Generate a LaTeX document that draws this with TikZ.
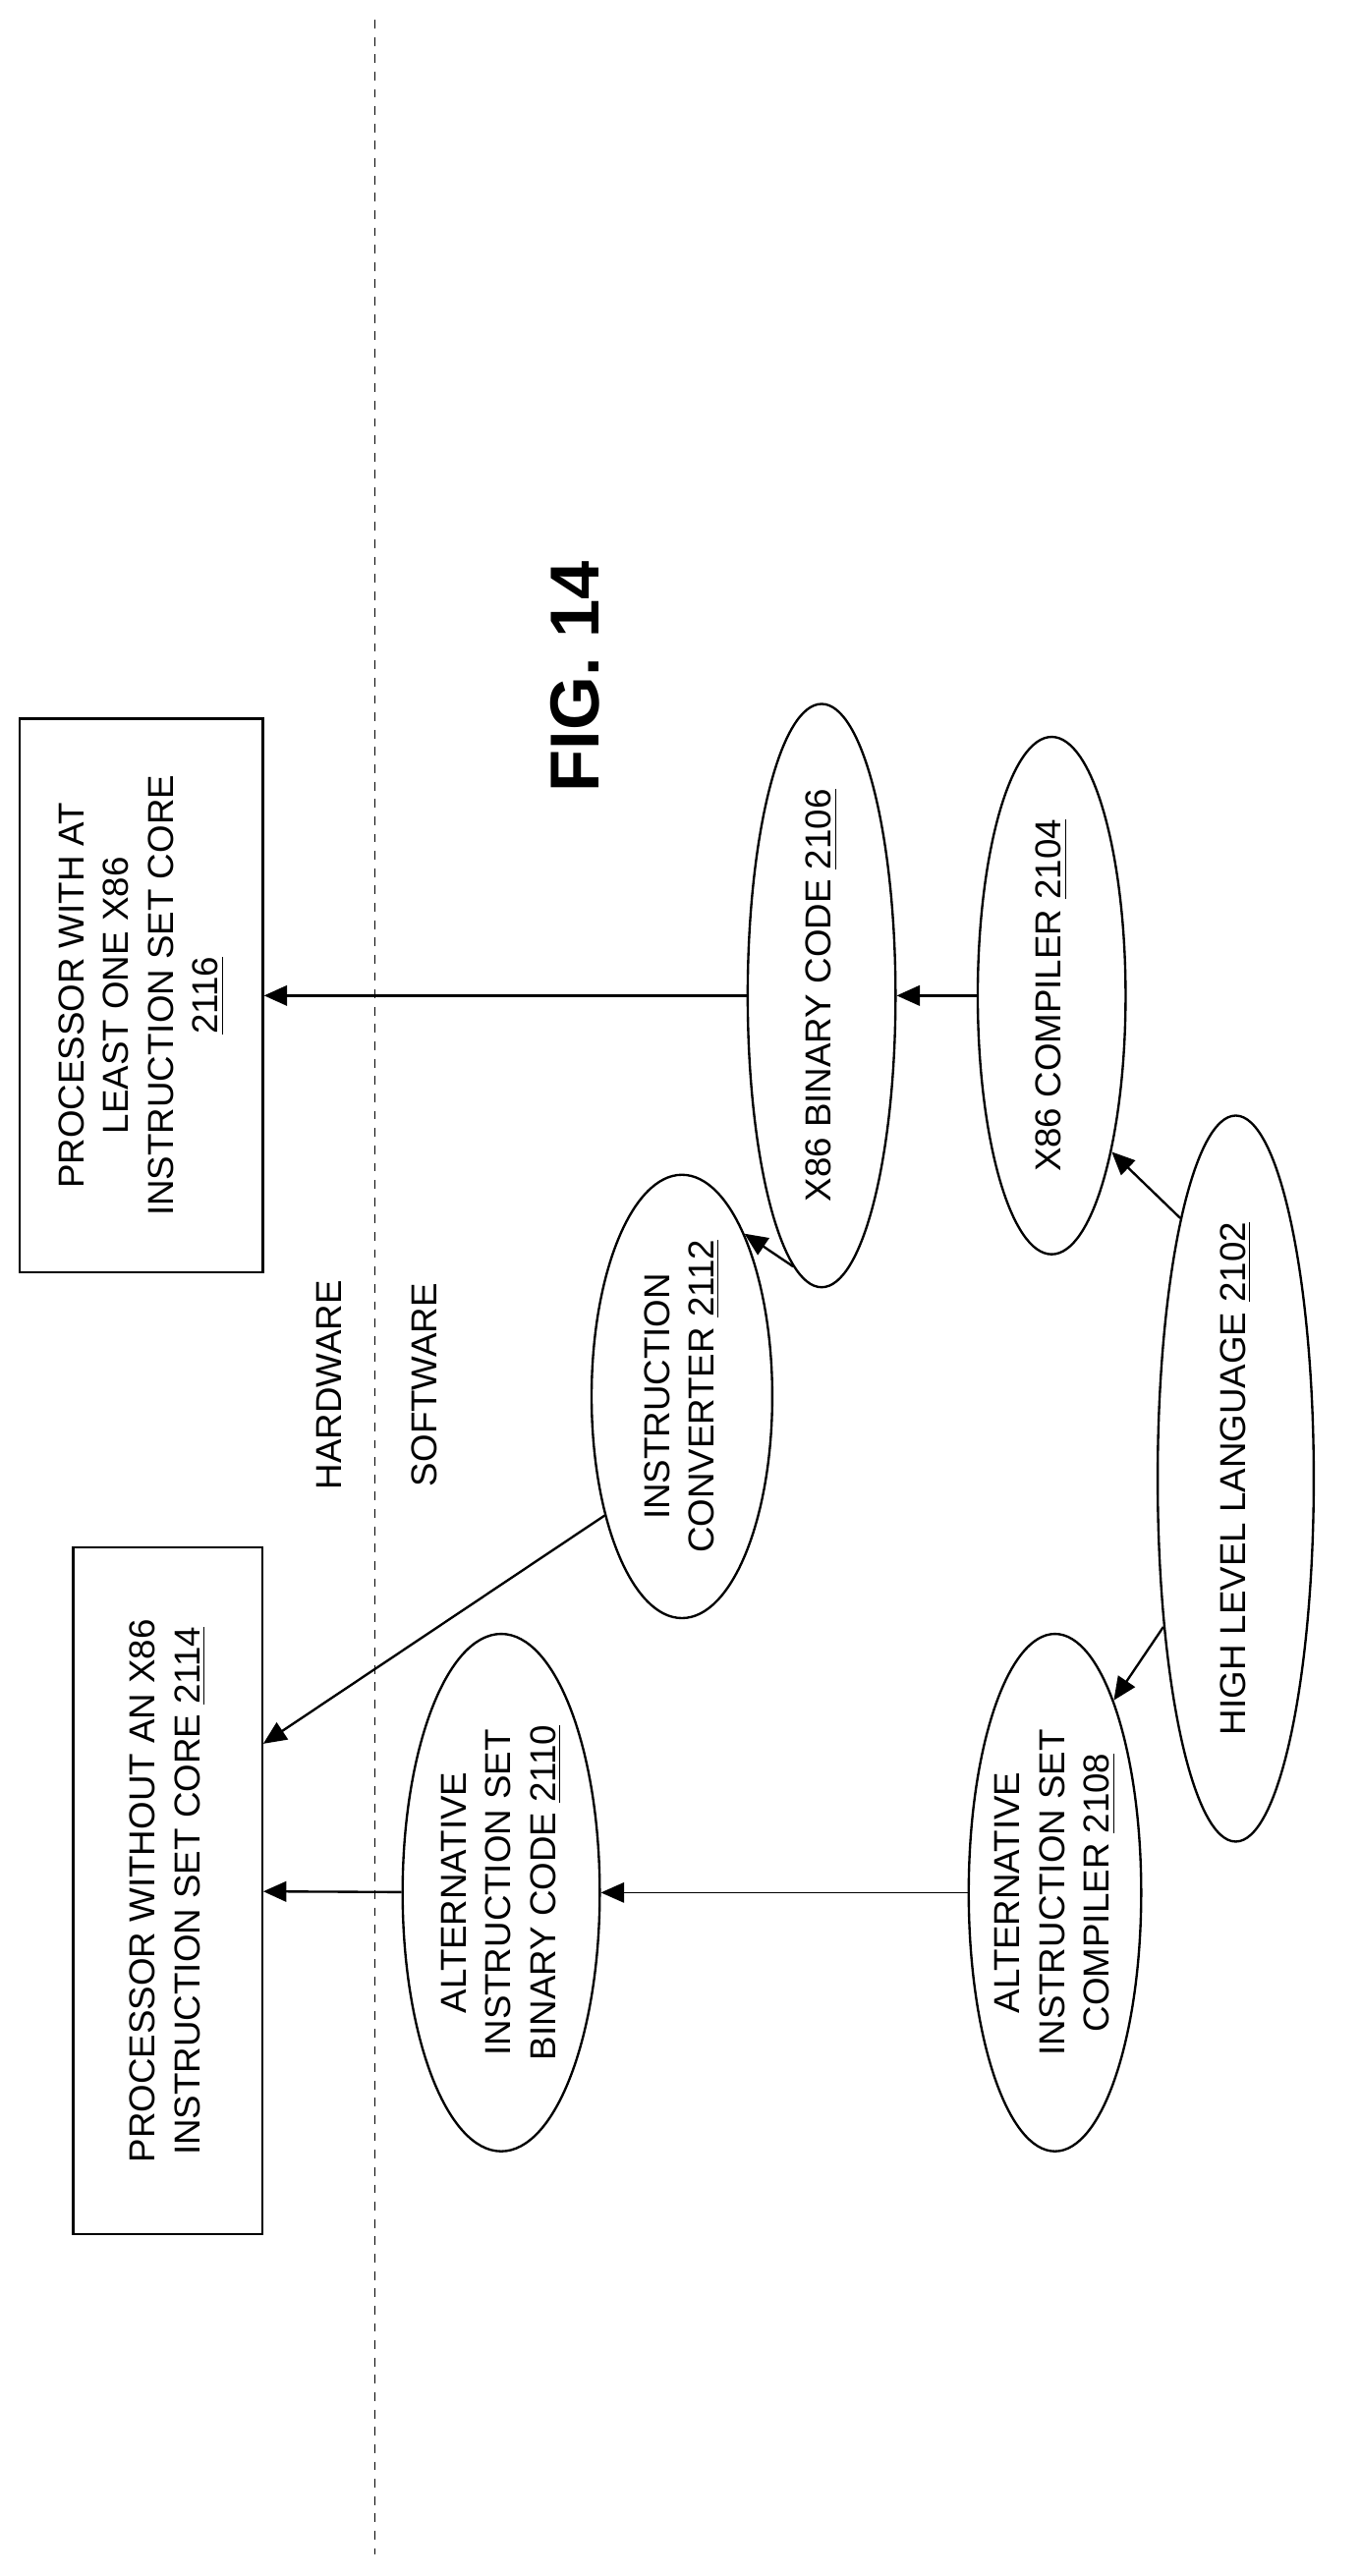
\documentclass[tikz,border=0pt]{standalone}
\usepackage{fontspec}
\setmainfont{Liberation Sans}
\usetikzlibrary{shapes.geometric,arrows.meta}
\begin{document}
\begin{tikzpicture}[x=0.02cm,y=-0.02cm]
    \tikzstyle{oval}=[ellipse, draw, thick, rotate=90, align=center, font=\fontsize{12.5}{15.5}\selectfont, inner sep=0pt]
    \tikzstyle{core}=[rectangle, draw, thick, rotate=90, align=center, font=\fontsize{12.5}{15.5}\selectfont]
    \tikzstyle{connect}=[-{Triangle[length=8pt,width=7pt]}, thick]
    \useasboundingbox (0,0) rectangle (828,1568);
    \draw[dashed] (228,12) -- (228,1555);
    \node[core, minimum width=6.74cm, minimum height=2.96cm] (n2116) at (86,606) {PROCESSOR WITH AT\\LEAST ONE X86\\INSTRUCTION SET CORE\\\underline{2116}};
    \node[core, minimum width=8.36cm, minimum height=2.3cm] (n2114) at (102,1151) {PROCESSOR WITHOUT AN X86\\INSTRUCTION SET CORE \underline{2114}};
    \node[rotate=90, font=\fontsize{12.5}{15.5}\selectfont] (hw) at (200,843) {HARDWARE};
    \node[rotate=90, font=\fontsize{12.5}{15.5}\selectfont] (sw) at (258,843) {SOFTWARE};
    \node[rotate=90, font=\fontsize{24}{28}\selectfont\bfseries] (fig) at (350,412) {FIG. 14};
    \node[oval, minimum width=6.3cm, minimum height=1.8cm] (n2106) at (500,606) {X86 BINARY CODE \underline{2106}};
    \node[oval, minimum width=6.3cm, minimum height=1.8cm] (n2104) at (640,606) {X86 COMPILER \underline{2104}};
    \node[oval, minimum width=6.4cm, minimum height=1.9cm] (n2102) at (752,900) {HIGH LEVEL LANGUAGE \underline{2102}};
    \node[oval, minimum width=4.8cm, minimum height=2.2cm] (n2112) at (415,850) {INSTRUCTION\\CONVERTER \underline{2112}};
    \node[oval, minimum width=6.3cm, minimum height=2.4cm] (n2110) at (305,1152) {ALTERNATIVE\\INSTRUCTION SET\\BINARY CODE \underline{2110}};
    \node[oval, minimum width=6.3cm, minimum height=2.1cm] (n2108) at (642,1152) {ALTERNATIVE\\INSTRUCTION SET\\COMPILER \underline{2108}};
    \draw[connect] (n2106) -- (n2116);
    \draw[connect] (n2104) -- (n2106);
    \draw[connect] (n2102.12) -- (n2104.201);
    \draw[connect] (n2102.154) -- (n2108.343);
    \draw[connect] (n2106.174) -- (n2112.339);
    \draw[connect] (n2112.147) -- (n2114.327);
    \draw[connect, thin] (n2108) -- (n2110);
    \draw[connect] (n2110) -- (n2114);
\end{tikzpicture}
\end{document}
